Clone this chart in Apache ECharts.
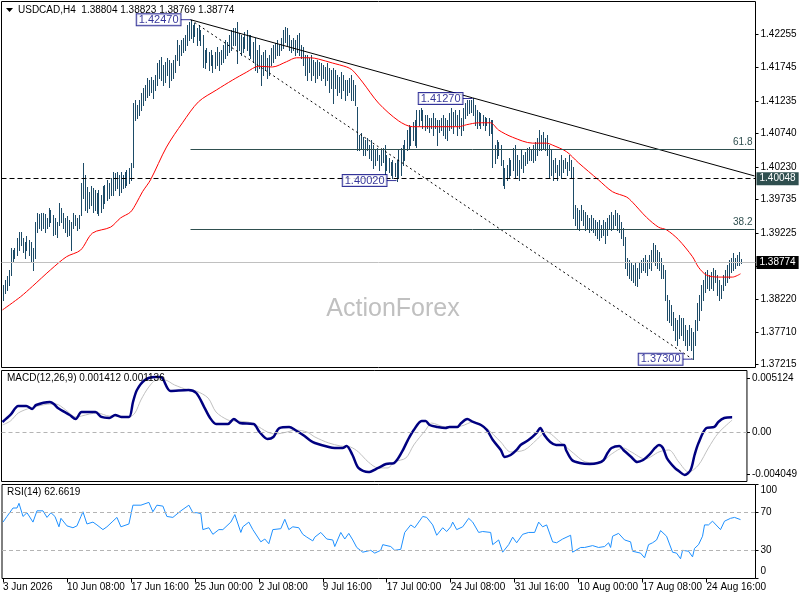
<!DOCTYPE html>
<html>
<head>
<meta charset="utf-8">
<script src="https://cdn.jsdelivr.net/npm/echarts@6/dist/echarts.min.js"></script>
<style>
  html, body { margin: 0; padding: 0; background: #fff; }
  #chart { width: 800px; height: 600px; }
</style>
</head>
<body>
<div id="chart"></div>
<script>
const FONT = "Tahoma, 'Liberation Sans', Arial, sans-serif";
const BAR_COLOR = "#1d4b67";
const SLOTS = 377; // bar slots on the time axis, the last few stay empty

// H4 bars, high / low per bar
const highs = [
  1.3843,1.3851,1.3857,1.3866,1.3899,1.3896,1.3899,1.3915,1.3924,1.3924,
  1.3915,1.3908,1.3918,1.3911,1.3908,1.3899,1.3939,1.3953,1.3951,1.3953,
  1.3953,1.3951,1.3945,1.3960,1.3957,1.3950,1.3945,1.3939,1.3968,1.3960,
  1.3953,1.3945,1.3948,1.3942,1.3939,1.3953,1.3950,1.3945,1.3950,1.3998,
  1.4029,1.4010,1.3992,1.3985,1.3994,1.3991,1.3988,1.3983,1.3988,1.3980,
  1.3994,1.3995,1.4003,1.3998,1.4006,1.4015,1.4014,1.4015,1.4010,1.4015,
  1.4010,1.4015,1.4018,1.4021,1.4029,1.4120,1.4125,1.4117,1.4125,1.4135,
  1.4143,1.4148,1.4158,1.4155,1.4160,1.4155,1.4163,1.4181,1.4186,1.4190,
  1.4178,1.4183,1.4189,1.4186,1.4181,1.4186,1.4193,1.4216,1.4208,1.4216,
  1.4219,1.4224,1.4239,1.4243,1.4247,1.4239,1.4242,1.4234,1.4239,1.4231,
  1.4224,1.4201,1.4204,1.4198,1.4201,1.4193,1.4198,1.4205,1.4198,1.4201,
  1.4208,1.4216,1.4213,1.4224,1.4231,1.4234,1.4234,1.4243,1.4227,1.4224,
  1.4221,1.4228,1.4231,1.4224,1.4224,1.4213,1.4219,1.4201,1.4208,1.4193,
  1.4198,1.4201,1.4189,1.4193,1.4204,1.4208,1.4212,1.4216,1.4208,1.4219,
  1.4231,1.4236,1.4234,1.4224,1.4216,1.4219,1.4216,1.4224,1.4227,1.4208,
  1.4205,1.4193,1.4193,1.4189,1.4193,1.4186,1.4183,1.4186,1.4183,1.4181,
  1.4178,1.4175,1.4181,1.4173,1.4170,1.4173,1.4170,1.4163,1.4160,1.4167,
  1.4163,1.4155,1.4155,1.4158,1.4163,1.4155,1.4148,1.4114,1.4071,1.4074,
  1.4068,1.4064,1.4067,1.4056,1.4064,1.4056,1.4049,1.4052,1.4041,1.4049,
  1.4052,1.4056,1.4041,1.4036,1.4030,1.4033,1.4029,1.4033,1.4049,1.4052,
  1.4056,1.4064,1.4079,1.4087,1.4084,1.4091,1.4094,1.4109,1.4109,1.4113,
  1.4109,1.4102,1.4102,1.4097,1.4097,1.4105,1.4097,1.4094,1.4094,1.4097,
  1.4102,1.4097,1.4094,1.4105,1.4113,1.4106,1.4109,1.4102,1.4109,1.4097,
  1.4113,1.4120,1.4125,1.4125,1.4125,1.4127,1.4117,1.4109,1.4106,1.4105,
  1.4102,1.4099,1.4097,1.4097,1.4094,1.4094,1.4056,1.4064,1.4061,1.4056,
  1.4033,1.4021,1.4026,1.4036,1.4033,1.4052,1.4056,1.4041,1.4033,1.4049,
  1.4041,1.4046,1.4052,1.4053,1.4049,1.4056,1.4061,1.4067,1.4079,1.4071,
  1.4076,1.4067,1.4071,1.4056,1.4049,1.4033,1.4036,1.4026,1.4033,1.4041,
  1.4033,1.4036,1.4030,1.4041,1.4033,1.4023,1.3965,1.3960,1.3957,1.3965,
  1.3957,1.3954,1.3950,1.3945,1.3950,1.3945,1.3942,1.3939,1.3942,1.3934,
  1.3942,1.3939,1.3945,1.3950,1.3954,1.3950,1.3957,1.3953,1.3950,1.3939,
  1.3930,1.3916,1.3884,1.3881,1.3878,1.3873,1.3876,1.3869,1.3878,1.3881,
  1.3884,1.3889,1.3881,1.3889,1.3896,1.3907,1.3904,1.3896,1.3893,1.3884,
  1.3873,1.3866,1.3828,1.3820,1.3812,1.3802,1.3793,1.3790,1.3797,1.3793,
  1.3793,1.3782,1.3774,1.3782,1.3777,1.3771,1.3790,1.3816,1.3828,1.3843,
  1.3851,1.3863,1.3866,1.3858,1.3863,1.3869,1.3866,1.3858,1.3851,1.3843,
  1.3858,1.3866,1.3873,1.3881,1.3884,1.3892,1.3884,1.3889,1.3893,1.38823
];
const lows = [
  1.3820,1.3831,1.3835,1.3843,1.3858,1.3878,1.3884,1.3889,1.3896,1.3904,
  1.3893,1.3884,1.3896,1.3889,1.3878,1.3866,1.3884,1.3924,1.3930,1.3927,
  1.3930,1.3924,1.3930,1.3933,1.3939,1.3919,1.3921,1.3916,1.3934,1.3939,
  1.3930,1.3924,1.3918,1.3919,1.3896,1.3930,1.3934,1.3927,1.3930,1.3950,
  1.3975,1.3957,1.3954,1.3960,1.3965,1.3954,1.3957,1.3953,1.3950,1.3954,
  1.3960,1.3968,1.3972,1.3975,1.3980,1.3980,1.3988,1.3991,1.3980,1.3985,
  1.3991,1.3992,1.3995,1.3998,1.4003,1.4023,1.4094,1.4097,1.4102,1.4109,
  1.4117,1.4125,1.4129,1.4132,1.4137,1.4128,1.4140,1.4148,1.4158,1.4155,
  1.4148,1.4152,1.4163,1.4145,1.4155,1.4158,1.4167,1.4186,1.4178,1.4193,
  1.4198,1.4201,1.4208,1.4216,1.4219,1.4213,1.4222,1.4208,1.4216,1.4208,
  1.4175,1.4173,1.4183,1.4170,1.4178,1.4167,1.4173,1.4178,1.4170,1.4180,
  1.4183,1.4189,1.4193,1.4198,1.4201,1.4208,1.4208,1.4181,1.4201,1.4193,
  1.4198,1.4204,1.4201,1.4193,1.4189,1.4183,1.4170,1.4167,1.4173,1.4148,
  1.4163,1.4170,1.4158,1.4163,1.4178,1.4183,1.4189,1.4193,1.4193,1.4201,
  1.4204,1.4213,1.4208,1.4201,1.4198,1.4201,1.4193,1.4198,1.4193,1.4189,
  1.4178,1.4163,1.4155,1.4167,1.4155,1.4163,1.4152,1.4158,1.4163,1.4155,
  1.4158,1.4148,1.4155,1.4137,1.4143,1.4120,1.4143,1.4132,1.4137,1.4128,
  1.4140,1.4125,1.4132,1.4137,1.4125,1.4125,1.4117,1.4049,1.4049,1.4052,
  1.4041,1.4041,1.4049,1.4036,1.4033,1.4021,1.4026,1.4033,1.4018,1.4026,
  1.4030,1.4010,1.4018,1.4015,1.4010,1.4006,1.4009,1.4002,1.4006,1.4010,
  1.4026,1.4033,1.4049,1.4052,1.4056,1.4064,1.4056,1.4053,1.4087,1.4094,
  1.4082,1.4079,1.4082,1.4076,1.4082,1.4071,1.4082,1.4056,1.4076,1.4079,
  1.4071,1.4067,1.4064,1.4079,1.4082,1.4074,1.4087,1.4071,1.4082,1.4071,
  1.4079,1.4097,1.4102,1.4105,1.4106,1.4102,1.4087,1.4082,1.4087,1.4082,
  1.4087,1.4079,1.4087,1.4071,1.4074,1.4023,1.4029,1.4036,1.4041,1.4026,
  1.3995,1.3991,1.4003,1.4006,1.4010,1.4018,1.4006,1.4010,1.4003,1.4021,
  1.4015,1.4026,1.4029,1.4033,1.4033,1.4030,1.4033,1.4041,1.4049,1.4049,
  1.4052,1.4049,1.4041,1.4006,1.4010,1.4003,1.4015,1.4003,1.4010,1.4006,
  1.4015,1.4021,1.4010,1.4018,1.4006,1.3945,1.3934,1.3930,1.3927,1.3942,
  1.3934,1.3927,1.3930,1.3924,1.3927,1.3924,1.3919,1.3915,1.3912,1.3916,
  1.3919,1.3907,1.3919,1.3930,1.3927,1.3930,1.3934,1.3927,1.3924,1.3915,
  1.3904,1.3869,1.3858,1.3854,1.3851,1.3848,1.3843,1.3841,1.3854,1.3863,
  1.3866,1.3863,1.3858,1.3869,1.3866,1.3878,1.3873,1.3869,1.3866,1.3854,
  1.3854,1.3820,1.3790,1.3787,1.3782,1.3774,1.3759,1.3752,1.3762,1.3767,
  1.3759,1.3752,1.3744,1.3752,1.3744,1.3730,1.3752,1.3774,1.3790,1.3805,
  1.3820,1.3832,1.3838,1.3835,1.3838,1.3835,1.3848,1.3828,1.3820,1.3823,
  1.3835,1.3843,1.3848,1.3854,1.3863,1.3866,1.3869,1.3873,1.3873,1.38769
];

// moving average (red), read at the listed bars
const maIdx = [0,9,15,24,32,39,45,54,59,64,67,70,74,82,90,98,107,115,122,128,135,142,147,154,158,165,172,175,180,188,198,205,215,228,232,238,244,248,255,265,272,275,282,288,298,305,312,315,322,328,332,338,345,348,352,358,365,369];
const maVal = [1.3805,1.3825,1.3841,1.3866,1.3886,1.3896,1.3922,1.3931,1.3945,1.3954,1.3968,1.3985,1.4003,1.4053,1.4090,1.4122,1.4140,1.4155,1.4167,1.4176,1.4175,1.4183,1.4189,1.4189,1.4187,1.4181,1.4175,1.4170,1.4152,1.4120,1.4093,1.4084,1.4084,1.4084,1.4087,1.4090,1.4090,1.4079,1.4068,1.4059,1.4059,1.4056,1.4046,1.4029,1.4003,1.3985,1.3977,1.3969,1.3946,1.3931,1.3927,1.3912,1.3886,1.3870,1.3858,1.3855,1.3855,1.3860];

// MACD(12,26,9)
const macdIdx = [0,4,8,12,15,17,24,26,28,34,37,40,47,50,54,57,60,64,66,68,72,77,80,85,94,98,102,105,108,114,117,120,127,130,134,137,140,145,148,152,156,158,165,168,172,174,177,180,185,190,194,198,202,205,208,212,214,216,220,224,226,230,232,235,238,242,245,248,252,254,257,260,262,266,270,272,274,277,280,284,285,288,292,297,301,304,306,308,312,314,318,321,324,327,330,332,334,336,340,342,345,348,350,352,356,360,362,365,369];
const macdVal = [0.00096,0.00163,0.00249,0.00249,0.00220,0.00258,0.00287,0.00268,0.00230,0.00163,0.00124,0.00191,0.00191,0.00144,0.00134,0.00163,0.00144,0.00144,0.00287,0.00402,0.00498,0.00526,0.00526,0.00392,0.00402,0.00373,0.00239,0.00134,0.00077,0.00077,0.00124,0.00086,0.00077,0,-0.00067,-0.00048,0.00038,0.00048,0.00019,-0.00029,-0.00086,-0.00105,-0.00144,-0.00153,-0.00153,-0.00134,-0.00220,-0.00344,-0.00383,-0.00344,-0.00306,-0.00297,-0.00191,-0.00077,0.00019,0.00105,0.00105,0.00067,0.00048,0.00038,0.00048,0.00048,0.00086,0.00124,0.00096,0.00067,0.00019,-0.00077,-0.00172,-0.00239,-0.00220,-0.00172,-0.00124,-0.00077,-0.00010,0.00038,-0.00029,-0.00096,-0.00124,-0.00124,-0.00172,-0.00268,-0.00297,-0.00306,-0.00297,-0.00268,-0.00201,-0.00153,-0.00134,-0.00172,-0.00239,-0.00287,-0.00268,-0.00220,-0.00153,-0.00124,-0.00153,-0.00249,-0.00344,-0.00373,-0.00411,-0.00364,-0.00220,-0.00105,0.00038,0.00048,0.00096,0.00134,0.001412];
const sigIdx = [0,4,8,14,18,24,27,32,37,40,44,48,54,58,64,67,70,74,78,82,87,94,98,104,108,114,118,124,128,134,138,144,148,154,158,165,171,176,180,185,190,195,198,204,208,214,217,224,232,238,244,252,257,264,270,275,282,288,295,302,308,314,318,325,332,337,342,347,352,357,362,369];
const sigVal = [0.00067,0.00105,0.00182,0.00230,0.00249,0.00268,0.00268,0.00211,0.00144,0.00153,0.00172,0.00182,0.00153,0.00153,0.00144,0.00182,0.00306,0.00431,0.00498,0.00498,0.00450,0.00402,0.00392,0.00325,0.00191,0.00115,0.00105,0.00096,0.00067,0,-0.00019,0,0.00019,0,-0.00048,-0.00105,-0.00134,-0.00144,-0.00191,-0.00287,-0.00344,-0.00344,-0.00287,-0.00249,-0.00124,0.00019,0.00086,0.00048,0.00057,0.00096,0.00048,-0.00096,-0.00191,-0.00172,-0.00077,0,-0.00096,-0.00191,-0.00287,-0.00297,-0.00211,-0.00153,-0.00191,-0.00258,-0.00191,-0.00172,-0.00287,-0.00383,-0.00316,-0.00153,-0.00010,0.001136];

// RSI(14)
const rsiIdx = [0,2,5,7,8,10,12,15,17,20,22,24,26,28,29,32,35,37,39,40,42,45,47,50,52,55,57,59,63,65,69,73,75,77,80,82,85,89,93,95,97,99,100,103,105,108,110,114,116,119,120,123,125,129,131,133,135,139,141,143,145,148,150,152,155,156,159,162,165,166,169,171,173,175,177,180,184,186,189,190,194,196,199,201,204,206,210,212,215,217,220,222,224,225,227,230,233,235,238,240,244,245,248,250,253,255,257,260,263,266,268,270,272,275,277,280,284,285,289,291,295,298,301,303,304,305,308,309,311,314,315,319,321,323,325,327,329,330,332,335,337,339,340,343,345,346,348,350,351,353,355,359,361,364,366,369];
const rsiVal = [60,66,75,75,80,66,70,60,72,72,65,70,66,55,64,56,54,56,66,71,58,60,57,52,55,61,65,55,58,78,78,81,71,78,77,66,65,72,78,70,70,69,52,54,47,52,52,60,68,49,55,60,52,39,42,37,52,53,63,52,55,54,47,44,40,44,49,42,41,34,49,42,48,41,33,28,30,27,30,36,34,30,31,49,57,54,66,65,57,46,54,50,55,60,52,55,64,60,49,50,49,36,41,28,36,44,38,47,49,49,60,55,57,39,38,42,46,28,33,33,35,33,34,38,33,45,48,50,41,39,29,27,22,36,38,41,51,52,45,28,27,21,30,29,23,32,36,45,57,57,61,52,61,64,65,62.66];

// axis ticks
const priceTicks = [1.37215,1.37710,1.38220,1.38715,1.39225,1.39735,1.40230,1.40740,1.41235,1.41745,1.42255];
const macdTicks = [-0.004049, 0, 0.005124];
const rsiTicks = [0, 30, 70, 100];
const timeLabels = ["3 Jun 2026","10 Jun 08:00","17 Jun 16:00","25 Jun 00:00","2 Jul 08:00","9 Jul 16:00","17 Jul 00:00","24 Jul 08:00","31 Jul 16:00","10 Aug 00:00","17 Aug 08:00","24 Aug 16:00"];
const barsPerLabel = 32;

// drawn objects
const pivotIdx = [94, 235, 197, 345];
const pivotPrice = [1.4247, 1.4127, 1.4002, 1.3730];
const trendIdx = [94, 376];
const trendPrice = [1.4247, 1.4009];
const swingIdx = [94, 345];
const swingPrice = [1.4247, 1.3730];
const fibNames = ["61.8", "38.2"];
const fibPrice = [1.40495, 1.39275];
const fibStart = 94;
const levelPrice = 1.40048;
const lastPrice = 1.38774;
const lastBar = [1.38804, 1.38823, 1.38769, 1.38774];
const macdNow = [0.001412, 0.001136];
const rsiNow = 62.6619;

const cats = Array.from({ length: SLOTS }, (_, i) => i);
const pairs = (idx, val) => idx.map((k, j) => [k, val[j]]);
const axisText = { color: "#000", fontSize: 10, fontFamily: FONT };
const panel = { left: 1.5, width: 754, show: true, borderColor: "#000", borderWidth: 1 };

const chart = echarts.init(document.getElementById("chart"), null, { renderer: "canvas" });

chart.setOption({
  animation: false,
  textStyle: { fontFamily: FONT },
  grid: [
    { ...panel, top: 1.5, height: 366 },
    { ...panel, top: 370.5, height: 111 },
    { ...panel, top: 484.5, height: 94 },
  ],
  xAxis: [0, 1, 2].map((g) => ({
    type: "category",
    gridIndex: g,
    data: cats,
    axisLine: { show: false },
    splitLine: { show: false },
    axisTick: g === 2
      ? { show: true, interval: (i) => i % barsPerLabel === 0, alignWithLabel: true, length: 4, lineStyle: { color: "#000" } }
      : { show: false },
    axisLabel: g === 2
      ? { show: true, interval: (i) => i % barsPerLabel === 0, align: "left", margin: 4,
          formatter: (v, i) => timeLabels[i / barsPerLabel] || "", ...axisText }
      : { show: false },
  })),
  yAxis: [
    {
      gridIndex: 0, position: "right", min: 1.37173, max: 1.42747,
      axisLine: { show: false }, splitLine: { show: false },
      axisTick: { show: true, length: 3, customValues: priceTicks, lineStyle: { color: "#000" } },
      axisLabel: { customValues: priceTicks, margin: 5, formatter: (v) => v.toFixed(5), ...axisText },
    },
    {
      gridIndex: 1, position: "right", min: -0.004737, max: 0.005885,
      axisLine: { show: false }, splitLine: { show: false },
      axisTick: { show: true, length: 3, customValues: macdTicks, lineStyle: { color: "#000" } },
      axisLabel: { customValues: macdTicks, margin: 5, formatter: (v) => (v === 0 ? "0.00" : v.toFixed(6)), ...axisText },
    },
    {
      gridIndex: 2, position: "right", min: 0, max: 100,
      axisLine: { show: false }, splitLine: { show: false },
      axisTick: { show: true, length: 3, customValues: rsiTicks, lineStyle: { color: "#000" } },
      axisLabel: {
        customValues: rsiTicks, margin: 5, ...axisText,
        formatter: (v) => (v === 100 ? "{dn|100}" : v === 0 ? "{up|0}" : String(v)),
        rich: {
          dn: { ...axisText, padding: [12, 0, 0, 0] },
          up: { ...axisText, padding: [0, 0, 14, 0] },
        },
      },
    },
  ],
  graphic: [
    { type: "polygon", z: 10, shape: { points: [[6, 8], [13, 8], [9.5, 12]] }, style: { fill: "#000" } },
    { type: "text", z: 10, style: { x: 18, y: 10, text: "USDCAD,H4  " + lastBar.map((v) => v.toFixed(5)).join(" "),
        font: "10px " + FONT, fill: "#000", textVerticalAlign: "middle" } },
    { type: "text", z: 10, style: { x: 7, y: 378, text: "MACD(12,26,9) " + macdNow.map((v) => v.toFixed(6)).join(" "),
        font: "10px " + FONT, fill: "#000", textVerticalAlign: "middle" } },
    { type: "text", z: 10, style: { x: 7, y: 492, text: "RSI(14) " + rsiNow.toFixed(4),
        font: "10px " + FONT, fill: "#000", textVerticalAlign: "middle" } },
    { type: "text", z: 1, style: { x: 393, y: 309, text: "ActionForex", font: "25px 'Liberation Sans', Arial, sans-serif",
        fill: "#c0c0c0", textAlign: "center", textVerticalAlign: "middle" } },
  ],
  series: [
    {
      // price bars as plain high-low lines
      type: "custom",
      xAxisIndex: 0, yAxisIndex: 0,
      data: highs.map((h, i) => [i, h, lows[i]]),
      encode: { x: 0, y: [1, 2] },
      renderItem: (params, api) => {
        const top = api.coord([api.value(0), api.value(1)]);
        const bot = api.coord([api.value(0), api.value(2)]);
        const x = Math.round(top[0]) + 0.5;
        return {
          type: "line",
          shape: { x1: x, y1: Math.round(top[1]), x2: x, y2: Math.round(bot[1]) + 1 },
          style: { stroke: BAR_COLOR, lineWidth: 1 },
        };
      },
      z: 3,
    },
    {
      type: "line", xAxisIndex: 0, yAxisIndex: 0,
      data: pairs(maIdx, maVal), showSymbol: false, smooth: 0.3,
      lineStyle: { color: "#ff0000", width: 1 }, z: 4,
    },
    {
      type: "line", xAxisIndex: 0, yAxisIndex: 0,
      data: pairs(trendIdx, trendPrice), showSymbol: false,
      lineStyle: { color: "#000", width: 1 }, z: 4,
    },
    {
      type: "line", xAxisIndex: 0, yAxisIndex: 0,
      data: pairs(swingIdx, swingPrice), showSymbol: false,
      lineStyle: { color: "#000", width: 1, type: [2, 3] }, z: 4,
    },
    {
      type: "line", xAxisIndex: 0, yAxisIndex: 0, data: [], z: 2,
      markLine: {
        silent: true, symbol: ["none", "none"], animation: false, precision: 5,
        data: [
          {
            yAxis: levelPrice,
            lineStyle: { color: "#000", width: 1, type: [5, 3] },
            label: { show: true, position: "end", distance: 1, formatter: () => levelPrice.toFixed(5),
              backgroundColor: "#2f4f4f", padding: [2, 3, 1, 3], ...axisText, color: "#fff" },
          },
          {
            yAxis: lastPrice,
            lineStyle: { color: "#c0c0c0", width: 1, type: "solid" },
            label: { show: true, position: "end", distance: 1, formatter: () => lastPrice.toFixed(5),
              backgroundColor: "#000", padding: [2, 3, 1, 3], ...axisText, color: "#fff" },
          },
          ...fibPrice.map((v, k) => [
            {
              coord: [fibStart, v],
              lineStyle: { color: "#2f4f4f", width: 1, type: "solid" },
              label: { show: true, position: "insideEndTop", distance: 2, formatter: fibNames[k],
                ...axisText, color: "#2f4f4f" },
            },
            { coord: [SLOTS - 1, v] },
          ]),
        ],
      },
    },
    {
      // swing high / low labels with their short leader
      type: "scatter", xAxisIndex: 0, yAxisIndex: 0,
      data: pairs(pivotIdx, pivotPrice),
      symbol: "rect", symbolSize: [10, 1], symbolOffset: [-5, 0],
      itemStyle: { color: "#000080" },
      label: {
        show: true, position: "left", distance: 0,
        formatter: (p) => p.value[1].toFixed(5),
        color: "#000080", backgroundColor: "#fff", borderColor: "#000080", borderWidth: 1,
        padding: [1, 2, 0, 2], fontSize: 11, fontFamily: FONT, lineHeight: 10,
      },
      z: 6,
    },
    {
      type: "line", xAxisIndex: 1, yAxisIndex: 1,
      data: pairs(sigIdx, sigVal), showSymbol: false, smooth: 0.3,
      lineStyle: { color: "#c0c0c0", width: 1 },
      markLine: {
        silent: true, symbol: ["none", "none"], label: { show: false },
        lineStyle: { color: "#b4b4b4", type: [4, 3], width: 1 },
        data: [{ yAxis: 0 }],
      },
    },
    {
      type: "line", xAxisIndex: 1, yAxisIndex: 1,
      data: pairs(macdIdx, macdVal), showSymbol: false, smooth: 0.3,
      lineStyle: { color: "#000080", width: 2.5 },
    },
    {
      type: "line", xAxisIndex: 2, yAxisIndex: 2,
      data: pairs(rsiIdx, rsiVal), showSymbol: false,
      lineStyle: { color: "#1e90ff", width: 1 },
      markLine: {
        silent: true, symbol: ["none", "none"], label: { show: false },
        lineStyle: { color: "#b4b4b4", type: [4, 3], width: 1 },
        data: [{ yAxis: 70 }, { yAxis: 30 }],
      },
    },
  ],
});
</script>
</body>
</html>
